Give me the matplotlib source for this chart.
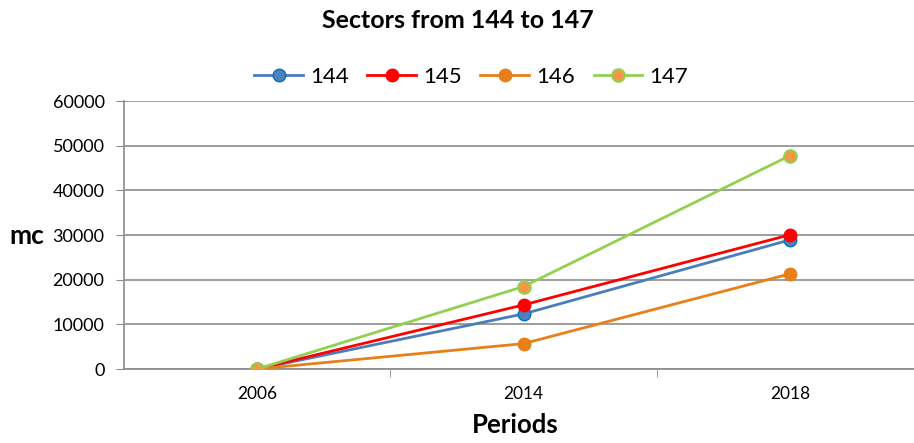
import matplotlib
matplotlib.use('Agg')
import matplotlib.pyplot as plt

plt.rcParams['font.family'] = ['Lato', 'DejaVu Sans']

periods = ['2006', '2014', '2018']
s144 = [0, 12330, 28900]
s145 = [0, 14350, 30040]
s146 = [0, 5680, 21300]
s147 = [0, 18460, 47760]
yticks = [0, 10000, 20000, 30000, 40000, 50000, 60000]

fig = plt.figure(figsize=(9.14, 4.43), dpi=100)
ax = fig.add_axes([124 / 914, 1 - 369 / 443, 799 / 914, 268 / 443])

x = range(len(periods))
ax.plot(x, s144, color='#4a7ebb', lw=2, marker='o', ms=9, mfc='#4f81bd', mec='#0070c0', label='144', zorder=3)
ax.plot(x, s145, color='#ff0000', lw=2, marker='o', ms=9, mfc='#ff0000', mec='#ff0000', label='145', zorder=3)
ax.plot(x, s146, color='#e8801a', lw=2, marker='o', ms=9, mfc='#e8801a', mec='#e8801a', label='146', zorder=3)
ax.plot(x, s147, color='#92d050', lw=2, marker='o', ms=9, mfc='#f79646', mec='#92d050', mew=1.5, label='147', zorder=4)

ax.set_xlim(-0.5, 2.5)
ax.set_ylim(0, 60000)
ax.set_yticks(yticks)
ax.set_yticklabels([str(v) for v in yticks], fontsize=13)
ax.yaxis.grid(True, color='#8c8c8c', lw=1.2)
ax.set_axisbelow(True)

ax.set_xticks(list(x))
ax.set_xticklabels(periods, fontsize=12.5)
ax.set_xticks([0.5, 1.5], minor=True)
ax.tick_params(axis='x', which='major', length=0, pad=12)
ax.tick_params(axis='x', which='minor', length=6, color='#8c8c8c', direction='out')
ax.tick_params(axis='y', length=6, color='#8c8c8c', direction='out', pad=8)

for side in ['top', 'right']:
    ax.spines[side].set_visible(False)
ax.spines['left'].set_color('#8c8c8c')
ax.spines['bottom'].set_color('#8c8c8c')
ax.spines['left'].set_linewidth(1.2)
ax.spines['bottom'].set_linewidth(1.2)

fig.text(458 / 914, 1 - 20 / 443, 'Sectors from 144 to 147', ha='center', va='center',
         fontsize=18, fontweight='bold')
fig.text(27 / 914, 1 - 236 / 443, 'mc', ha='center', va='center', fontsize=19, fontweight='bold')
fig.text(515 / 914, 1 - 425 / 443, 'Periods', ha='center', va='center', fontsize=18.5, fontweight='bold')

fig.legend(loc='center', bbox_to_anchor=(471 / 914, 1 - 77 / 443), ncol=4, frameon=False,
           fontsize=16, handlelength=2.2, columnspacing=0.85, handletextpad=0.3)

fig.savefig('out.png', dpi=100)
